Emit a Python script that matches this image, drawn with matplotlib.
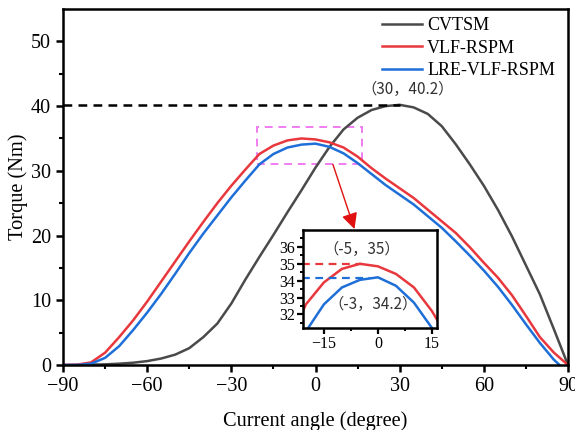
import numpy as np
import matplotlib.pyplot as plt
from matplotlib.patches import Rectangle

plt.rcParams['font.family'] = ['Liberation Serif', 'DejaVu Serif']

# --- data ---
angle = [-90, -85, -80, -75, -70, -65, -60, -55, -50, -45, -40, -35, -30, -25, -20,
         -15, -10, -5, 0, 5, 10, 15, 20, 25, 30, 35, 40, 45, 50, 55, 60, 65, 70,
         75, 80, 85, 90]
cvtsm = [0, 0, 0.05, 0.1, 0.2, 0.35, 0.6, 1.0, 1.6, 2.6, 4.3, 6.4, 9.5, 13.2, 16.7,
         20.1, 23.6, 27.0, 30.5, 33.7, 36.4, 38.2, 39.4, 40.0, 40.2, 39.8, 38.8,
         36.9, 34.1, 31.0, 27.7, 24.0, 19.9, 15.4, 10.9, 5.5, 0]
vlf = [0, 0.05, 0.4, 1.9, 4.3, 6.9, 9.8, 12.9, 16.0, 19.1, 22.1, 25.0, 27.7, 30.2,
       32.6, 33.9, 34.7, 35.0, 34.85, 34.4, 33.6, 32.2, 30.4, 28.8, 27.3, 25.8,
       24.0, 22.2, 20.4, 18.2, 15.8, 13.5, 10.8, 7.6, 4.3, 1.9, 0]
angle_lre = angle[:-1] + [87]
lre = [0, 0, 0.2, 1.1, 2.9, 5.4, 8.1, 11.0, 14.1, 17.3, 20.3, 23.1, 25.9, 28.5,
       31.0, 32.6, 33.6, 34.05, 34.2, 33.7, 32.7, 31.2, 29.5, 27.8, 26.3, 24.8,
       23.0, 21.2, 19.1, 16.9, 14.6, 12.1, 9.3, 6.3, 3.4, 0.8, 0]

c_gray = '#4a4a4a'
c_red = '#e8383d'
c_blue = '#1f6fd8'
cjk = ['Noto Sans CJK SC', 'DejaVu Sans']

fig = plt.figure(figsize=(5.75, 4.3), dpi=100)
ax = fig.add_axes([0.1096, 0.1512, 0.8782, 0.8278])

ax.plot(angle, cvtsm, color=c_gray, lw=1.8, label='CVTSM')
ax.plot(angle, vlf, color=c_red, lw=1.8, label='VLF-RSPM')
ax.plot(angle_lre, lre, color=c_blue, lw=1.8, label='LRE-VLF-RSPM')

# peak of CVTSM
ax.plot([-90, 30], [40.2, 40.2], color='black', lw=1.8, ls=(0, (3.5, 2.5)))
ax.text(32.8, 42.6, '（30，40.2）', fontsize=11, color='#333333', ha='center', va='center',
        family=cjk)

# zoom box + arrow
ax.add_patch(Rectangle((-20.7, 31.1), 37.1, 5.7, fill=False, ec='#f07df0', lw=1.4,
                       ls=(0, (4, 3))))
ax.annotate('', xy=(13.9, 21.0), xytext=(6.2, 31.0),
            arrowprops=dict(arrowstyle='-|>', color='#e01010', lw=1.0,
                            mutation_scale=24, shrinkA=0, shrinkB=0))

ax.set_xlim(-90, 90)
ax.set_ylim(0, 55)
ax.set_xticks([-90, -60, -30, 0, 30, 60, 90])
ax.set_xticks(np.arange(-75, 90, 30), minor=True)
ax.set_yticks([0, 10, 20, 30, 40, 50])
ax.set_yticks(np.arange(5, 55, 10), minor=True)
ax.set_xticklabels(['\u221290', '\u221260', '\u221230', '0', '30', '60', '90'])
ax.tick_params(which='major', direction='out', length=5, width=1.8, labelsize=14.5)
ax.tick_params(which='minor', direction='out', length=3, width=1.5)
for s in ax.spines.values():
    s.set_linewidth(1.8)
ax.set_xlabel('Current angle (degree)', fontsize=14.7, labelpad=11)
ax.set_ylabel('Torque (Nm)', fontsize=14.7, labelpad=2)

ax.legend(loc='upper left', bbox_to_anchor=(0.632, 0.977), frameon=False, fontsize=13,
          handlelength=2.2, handletextpad=0.3, labelspacing=0.3, borderaxespad=0,
          borderpad=0)

# --- inset ---
axi = fig.add_axes([0.527, 0.2372, 0.233, 0.2279])
axi.plot(angle, vlf, color=c_red, lw=1.8)
axi.plot(angle_lre, lre, color=c_blue, lw=1.8)
axi.plot([-21, -4.5], [35.0, 35.0], color=c_red, lw=1.6, ls=(0, (3.5, 2.5)))
axi.plot([-21, -2.2], [34.15, 34.15], color=c_blue, lw=1.6, ls=(0, (3.5, 2.5)))
axi.text(-4.5, 35.85, '（-5，35）', fontsize=11, color='#333333', ha='center', va='center',
         family=cjk)
axi.text(-1.5, 32.6, '（-3，34.2）', fontsize=11, color='#333333', ha='center', va='center',
         family=cjk)
axi.set_xlim(-20.8, 16.4)
axi.set_ylim(31.2, 37.0)
axi.set_xticks([-15, 0, 15])
axi.set_xticks([-7.5, 7.5], minor=True)
axi.set_xticklabels(['\u221215', '0', '15'])
axi.set_yticks([32, 33, 34, 35, 36])
axi.set_yticks(np.arange(31.5, 37, 1.0), minor=True)
axi.tick_params(which='major', direction='out', length=4, width=1.6, labelsize=11.5, pad=2)
axi.tick_params(which='minor', direction='out', length=2.5, width=1.4)
for s in axi.spines.values():
    s.set_linewidth(1.8)

fig.savefig('out.png', dpi=100)
